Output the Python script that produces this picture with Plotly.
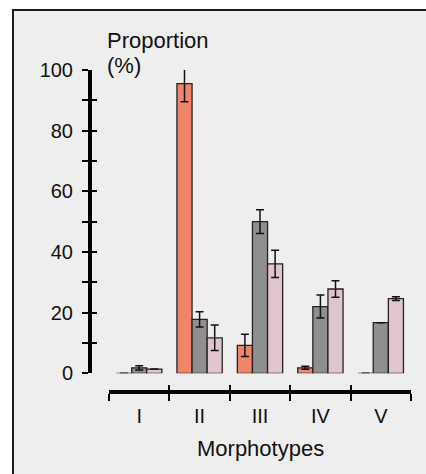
import plotly.graph_objects as go

categories = ["I", "II", "III", "IV", "V"]
series_names = ["Series A", "Series B", "Series C"]
orange_vals = [0, 95.5, 9.2, 1.8, 0]
orange_err = [None, 6.0, 3.7, 0.5, None]
gray_vals = [1.8, 17.8, 50.0, 22.0, 16.7]
gray_err = [0.7, 2.5, 3.9, 3.8, None]
pink_vals = [1.4, 11.7, 36.1, 27.8, 24.6]
pink_err = [None, 4.2, 4.5, 2.7, 0.6]
y_tickvals = [0, 20, 40, 60, 80, 100]

W, H = 426, 474
FONT = "Liberation Sans, Arial, sans-serif"

def px(x):
    return x / W

def py(y):
    return 1 - y / H

xpos = list(range(len(categories)))
bounds = [i - 0.5 for i in range(len(categories) + 1)]

fig = go.Figure()
for name, vals, errs, col in [
    (series_names[0], orange_vals, orange_err, "#f0856a"),
    (series_names[1], gray_vals, gray_err, "#8f8f8f"),
    (series_names[2], pink_vals, pink_err, "#e0c5cc"),
]:
    fig.add_trace(go.Bar(
        x=xpos, y=vals, name=name,
        marker=dict(color=col, line=dict(color="#222222", width=1.3)),
        error_y=dict(type="data", array=errs, visible=True, color="#111111",
                     thickness=1.5, width=4),
        showlegend=False, hoverinfo="skip",
    ))
# empty trace to host the overlay axes
fig.add_trace(go.Scatter(x=[], y=[], xaxis="x2", yaxis="y2", showlegend=False))

xdom = [px(109), px(411)]
ydom = [py(373.3), py(70)]

fig.update_layout(
    width=W, height=H,
    margin=dict(l=0, r=0, t=0, b=0, autoexpand=False),
    paper_bgcolor="white",
    plot_bgcolor="rgba(0,0,0,0)",
    barmode="group", bargap=0.25, bargroupgap=0,
    font=dict(family=FONT, size=20, color="#111111"),
    xaxis=dict(
        domain=xdom, range=[-0.5, len(categories) - 0.5],
        anchor="free", position=py(391.5),
        showline=True, linewidth=4, linecolor="black",
        tickmode="array", tickvals=xpos, ticktext=categories,
        ticks="outside", ticklen=5, tickcolor="rgba(0,0,0,0)",
        tickfont=dict(size=20),
        minor=dict(tickmode="array", tickvals=bounds, ticks="outside",
                   ticklen=7, tickwidth=2, tickcolor="black"),
        showgrid=False, zeroline=False, fixedrange=True,
    ),
    xaxis2=dict(
        domain=xdom, range=[-0.5, len(categories) - 0.5], overlaying="x",
        anchor="free", position=py(391.5),
        showline=False, showticklabels=False,
        tickmode="array", tickvals=bounds, ticks="inside",
        ticklen=7, tickwidth=2, tickcolor="black",
        showgrid=False, zeroline=False,
    ),
    yaxis=dict(
        domain=ydom, range=[0, 100],
        anchor="free", position=px(90),
        showline=True, linewidth=4, linecolor="black",
        tickmode="array", tickvals=y_tickvals,
        ticks="outside", ticklen=6, tickwidth=2, tickcolor="black",
        minor=dict(dtick=10, tick0=0, ticks="outside", ticklen=6,
                   tickwidth=2, tickcolor="black"),
        tickfont=dict(size=20), ticklabelstandoff=5,
        showgrid=False, zeroline=False,
    ),
    yaxis2=dict(
        domain=ydom, range=[0, 100], overlaying="y",
        anchor="free", position=px(90),
        showline=False, showticklabels=False,
        tickmode="linear", tick0=0, dtick=10,
        ticks="inside", ticklen=6, tickwidth=2, tickcolor="black",
        showgrid=False, zeroline=False,
    ),
    shapes=[dict(type="rect", xref="paper", yref="paper", layer="below",
                 x0=px(13), x1=1.05, y0=-0.05, y1=py(10),
                 fillcolor="#eeeeee", line=dict(color="#1a1a1a", width=2))],
    annotations=[
        dict(text="Proportion", xref="paper", yref="paper",
             x=px(105), y=py(41), xanchor="left", yanchor="middle",
             showarrow=False, font=dict(size=22)),
        dict(text="(%)", xref="paper", yref="paper",
             x=px(105), y=py(65), xanchor="left", yanchor="middle",
             showarrow=False, font=dict(size=22)),
        dict(text="Morphotypes", xref="paper", yref="paper",
             x=px(260), y=py(448), xanchor="center", yanchor="middle",
             showarrow=False, font=dict(size=22)),
    ],
)

fig.write_html("out.html", config={"displayModeBar": False},
               post_script="document.body.style.margin='0';document.body.style.overflow='hidden';")
